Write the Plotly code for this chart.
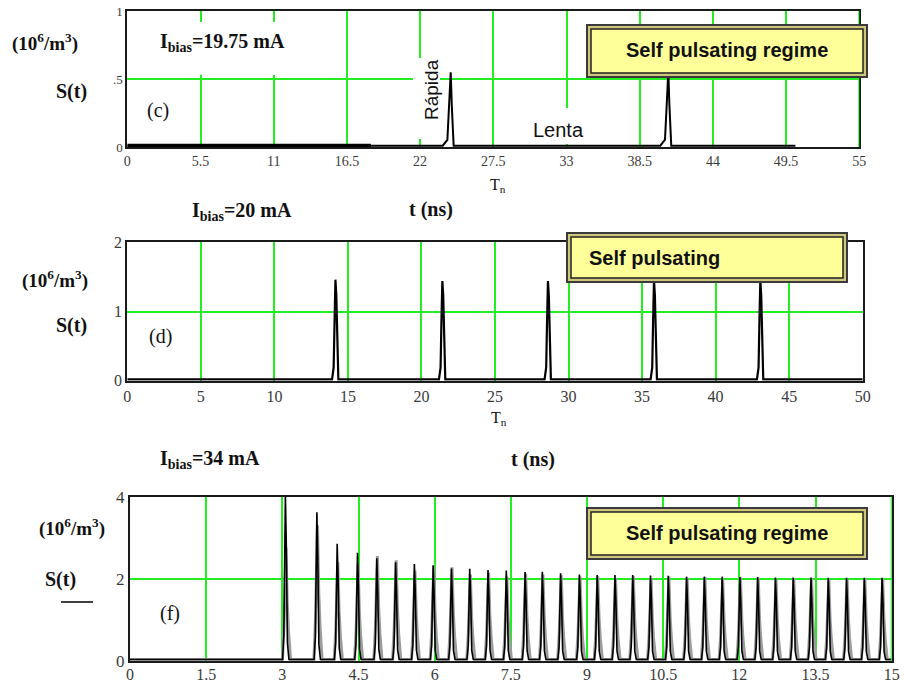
import plotly.graph_objects as go

W, H = 904, 685

# ---------------- data ----------------
# Panel (c): Ibias = 19.75 mA
c_peak_t = [24.3, 40.65]
c_peak_s = [0.55, 0.56]
c_start, c_thick_end, c_end = 0.0, 18.3, 50.2
c_xticks = [0, 5.5, 11, 16.5, 22, 27.5, 33, 38.5, 44, 49.5, 55]
c_yticks = [0, 0.5, 1]
c_yticktext = ["0", ".5", "1"]

# Panel (d): Ibias = 20 mA
d_peak_t = [14.17, 21.44, 28.62, 35.83, 43.06]
d_peak_s = [1.46, 1.44, 1.44, 1.45, 1.45]
d_start, d_end = 0.0, 50.0
d_xticks = [0, 5, 10, 15, 20, 25, 30, 35, 40, 45, 50]
d_yticks = [0, 1, 2]

# Panel (f): Ibias = 34 mA
f_peak_t = [3.06, 3.68, 4.08, 4.48, 4.86, 5.23, 5.60, 5.97, 6.33, 6.69, 7.05,
            7.41, 7.78, 8.12, 8.48, 8.85, 9.20, 9.55, 9.90, 10.25, 10.60, 10.96,
            11.31, 11.66, 12.01, 12.36, 12.71, 13.06, 13.41, 13.75, 14.11, 14.46, 14.81]
f_peak_black = [4.05, 3.62, 2.85, 2.63, 2.50, 2.40, 2.36, 2.33, 2.25, 2.24, 2.21,
                2.20, 2.16, 2.17, 2.13, 2.10, 2.09, 2.09, 2.09, 2.08, 2.07, 2.05,
                2.05, 2.05, 2.04, 2.04, 2.03, 2.03, 2.03, 2.02, 2.02, 2.02, 2.02]
f_peak_gray = [2.76, 3.30, 2.40, 2.35, 2.55, 2.45, 2.20, 2.30, 2.28, 2.10, 2.15,
               2.05, 2.12, 2.10, 2.08, 2.05, 2.06, 2.00, 2.06, 2.00, 2.05, 2.02,
               2.04, 2.00, 2.03, 2.02, 1.98, 2.00, 2.01, 1.98, 2.00, 2.00, 2.00]
f_start, f_end = 0.0, 15.0
f_xticks = [0, 1.5, 3, 4.5, 6, 7.5, 9, 10.5, 12, 13.5, 15]
f_yticks = [0, 2, 4]


# ---------------- helpers ----------------
def px(x):
    return x / W


def py(y):
    return 1 - y / H


def pulse_line(t0, t1, peaks, heights, base, offs, fracs):
    """Polyline: flat baseline with one spike at each read peak."""
    xs, ys = [t0], [base]
    for t, h in zip(peaks, heights):
        for o, f in zip(offs, fracs):
            xs.append(t + o)
            ys.append(base + f * (h - base))
    xs.append(t1)
    ys.append(base)
    return xs, ys


fig = go.Figure()

GRID = "#22ee22"
FRAME = "#1a1a1a"
SERIF = "Liberation Serif"
SANS = "Liberation Sans"
TICKC = "#3a3a3a"

# Panel c
cx, cy = pulse_line(c_start, c_end, c_peak_t, c_peak_s, 0.01,
                    [-0.6, -0.25, -0.12, 0.0, 0.08, 0.22],
                    [0.0, 0.08, 0.55, 1.0, 0.55, 0.0])
fig.add_trace(go.Scatter(x=cx, y=cy, mode="lines", line=dict(color="black", width=2),
                         xaxis="x", yaxis="y", hoverinfo="skip"))
fig.add_trace(go.Scatter(x=[c_start, c_thick_end], y=[0.012, 0.012], mode="lines",
                         line=dict(color="black", width=3.2), xaxis="x", yaxis="y",
                         hoverinfo="skip"))

# Panel d
dx, dy = pulse_line(d_start, d_end, d_peak_t, d_peak_s, 0.02,
                    [-0.25, -0.14, -0.08, -0.02, 0.04, 0.1, 0.18],
                    [0.0, 0.12, 0.6, 1.0, 0.85, 0.3, 0.0])
fig.add_trace(go.Scatter(x=dx, y=dy, mode="lines", line=dict(color="black", width=2.2),
                         xaxis="x2", yaxis="y2", hoverinfo="skip"))

# Panel f (gray, then black on top)
gx, gy = pulse_line(f_start, f_end, [t + 0.012 for t in f_peak_t], f_peak_gray, 0.03,
                    [-0.07, -0.04, -0.015, 0.0, 0.025, 0.05, 0.09],
                    [0.0, 0.3, 0.7, 1.0, 0.5, 0.25, 0.0])
fig.add_trace(go.Scatter(x=gx, y=gy, mode="lines", line=dict(color="#9c9c9c", width=3),
                         xaxis="x3", yaxis="y3", hoverinfo="skip"))
bx, by = pulse_line(f_start, f_end, f_peak_t, f_peak_black, 0.03,
                    [-0.055, -0.03, -0.012, 0.0, 0.018, 0.04, 0.07],
                    [0.0, 0.15, 0.6, 1.0, 0.7, 0.1, 0.0])
fig.add_trace(go.Scatter(x=bx, y=by, mode="lines", line=dict(color="black", width=1.6),
                         xaxis="x3", yaxis="y3", hoverinfo="skip"))


def xaxis(domain, rng, ticks, size, anchor, standoff=None):
    d = dict(domain=domain, range=rng, tickvals=ticks,
             ticktext=[("%g" % t) for t in ticks],
             showgrid=True, gridcolor=GRID, gridwidth=1.5, zeroline=False,
             showline=True, linecolor=FRAME, linewidth=2, mirror=True,
             ticks="", tickfont=dict(family=SERIF, size=size, color=TICKC),
             anchor=anchor, automargin=False, fixedrange=True)
    if standoff is not None:
        d["ticklabelstandoff"] = standoff
    return d


def yaxis(domain, rng, ticks, text, size, anchor):
    return dict(domain=domain, range=rng, tickvals=ticks, ticktext=text,
                showgrid=True, gridcolor=GRID, gridwidth=1.5, zeroline=False,
                showline=True, linecolor=FRAME, linewidth=2, mirror=True,
                ticks="", tickfont=dict(family=SERIF, size=size, color=TICKC),
                anchor=anchor, automargin=False, fixedrange=True)


fig.update_layout(
    width=W, height=H, margin=dict(l=0, r=0, t=0, b=0),
    paper_bgcolor="white", plot_bgcolor="white", showlegend=False,
    xaxis=xaxis([px(127.3), px(859.3)], [0, 55], c_xticks, 14, "y"),
    yaxis=yaxis([py(147), py(11)], [0, 1], c_yticks, c_yticktext, 13, "x"),
    xaxis2=xaxis([px(127.3), px(862.7)], [0, 50], d_xticks, 16, "y2"),
    yaxis2=yaxis([py(380.7), py(242.3)], [0, 2], d_yticks, [str(v) for v in d_yticks], 16, "x2"),
    xaxis3=xaxis([px(130), px(891.7)], [0, 15], f_xticks, 16, "y3", standoff=-2),
    yaxis3=yaxis([py(660.7), py(496.7)], [0, 4], f_yticks, [str(v) for v in f_yticks], 17, "x3"),
)

shapes = []


def white(x0, y0, x1, y1):
    shapes.append(dict(type="rect", xref="paper", yref="paper",
                       x0=px(x0), x1=px(x1), y0=py(y1), y1=py(y0),
                       line=dict(width=0), fillcolor="white", layer="above"))


def ybox(x0, y0, x1, y1):
    shapes.append(dict(type="rect", xref="paper", yref="paper",
                       x0=px(x0), x1=px(x1), y0=py(y1), y1=py(y0),
                       line=dict(color="#3a3a3a", width=2), fillcolor="#cfc77c", layer="above"))
    shapes.append(dict(type="rect", xref="paper", yref="paper",
                       x0=px(x0 + 4), x1=px(x1 - 4), y0=py(y1 - 4), y1=py(y0 + 4),
                       line=dict(color="#222", width=1.5), fillcolor="#ffff99", layer="above"))


# white text backgrounds that hide the grid in panel (c)
white(150, 22, 292, 75)
white(413, 58, 440, 139)
white(528, 108, 592, 144)

# green right edges
shapes.append(dict(type="line", xref="x", yref="y domain", x0=55, x1=55, y0=0, y1=1,
                   line=dict(color=GRID, width=2), layer="above"))
shapes.append(dict(type="line", xref="x3", yref="y3 domain", x0=15, x1=15, y0=0, y1=1,
                   line=dict(color=GRID, width=2), layer="above"))

ybox(587, 25, 867, 77)
ybox(567, 233, 847, 282)
ybox(587, 508, 867, 559)
shapes.append(dict(type="line", xref="paper", yref="paper", x0=px(61), x1=px(93),
                   y0=py(602), y1=py(602), line=dict(color="black", width=1.5)))
fig.update_layout(shapes=shapes)

ann = []


def text(x, y, s, size=16, family=SERIF, angle=0, xanchor="center", color="#111"):
    ann.append(dict(x=px(x), y=py(y), xref="paper", yref="paper", text=s, showarrow=False,
                    font=dict(family=family, size=size, color=color), xanchor=xanchor,
                    yanchor="middle", textangle=angle))


unit = "<b>(10<sup>6</sup>/m<sup>3</sup>)</b>"
# Panel c texts
text(45, 43, unit, 19)
text(71, 91, "<b>S(t)</b>", 20)
text(222, 42, "<b>I<sub>bias</sub>=19.75 mA</b>", 20)
text(158, 111, "(c)", 20)
text(431, 90, "Rápida", 19, family=SANS, angle=-90)
text(558, 130, "Lenta", 20, family=SANS)
text(727, 50, "<b>Self pulsating regime</b>", 20, family=SANS)
text(498, 186, "T<sub>n</sub>", 16)
text(431, 209, "<b>t (ns)</b>", 20)

# Panel d texts
text(55, 279, unit, 19)
text(71, 325, "<b>S(t)</b>", 20)
text(242, 212, "<b>I<sub>bias</sub>=20 mA</b>", 20)
text(160, 336, "(d)", 20)
text(587, 258, "<b>Self pulsating</b>", 20, family=SANS, xanchor="left")
text(499, 418, "T<sub>n</sub>", 16)
text(533, 460, "<b>t (ns)</b>", 20)

# Panel f texts
text(72, 527, unit, 19)
text(61, 579, "<b>S(t)</b>", 20)
text(210, 460, "<b>I<sub>bias</sub>=34 mA</b>", 20)
text(170, 613, "(f)", 20)
text(727, 533, "<b>Self pulsating regime</b>", 20, family=SANS)

fig.update_layout(annotations=ann)

fig.write_html(
    "out.html",
    config={"displayModeBar": False},
    post_script="document.body.style.margin='0';document.body.style.padding='0';",
)
